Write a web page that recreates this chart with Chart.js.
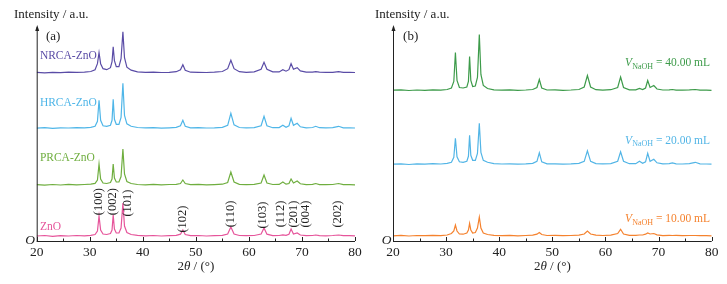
<!DOCTYPE html>
<html>
<head>
<meta charset="utf-8">
<script src="https://cdn.jsdelivr.net/npm/chart.js@4"></script>
<style>
  html, body { margin: 0; padding: 0; background: #fff; width: 727px; height: 284px; overflow: hidden; }
  canvas { position: absolute; top: 0; }
  #chart-a { left: 0; }
  #chart-b { left: 356px; }
</style>
</head>
<body>
<canvas id="chart-a" width="370" height="284"></canvas>
<canvas id="chart-b" width="371" height="284"></canvas>
<script>
// 2θ 取樣點 (度)
const twoTheta = [20, 21.5, 23, 24.5, 26, 27.5, 29, 30.2,
  31.0, 31.45, 31.75, 32.05, 32.5, 33.2,
  33.9, 34.2, 34.42, 34.65, 35.0, 35.5, 35.9, 36.25, 36.55, 37.0, 37.8,
  39.0, 40.5, 42, 43.5, 45, 46.3,
  47.1, 47.55, 48.0,
  49, 50.5, 52, 53.5, 55,
  56.0, 56.6, 57.2, 58.2,
  59.5, 61, 62.3, 62.85, 63.4, 64.5,
  65.7, 66.4, 67.0, 67.55, 67.95, 68.4, 69.1, 69.7,
  70.8, 72.0, 72.6, 73.3, 74.5, 75.8, 76.9, 77.8, 79, 80];

// (a) 強度 (a.u.)
const znO = [0, 0.5, -0.3, 0.4, 0, 0.5, 0.2, 0.6,
  1.5, 5, 20, 6, 2, 1.5,
  2.5, 6, 21, 7, 3, 3, 8, 33, 10, 3.5, 1.5,
  0.6, 0.2, 0.5, 0, 0.4, 0.6,
  1.8, 6, 1.5,
  0.3, 0.5, 0, 0.4, 0.6,
  2, 9, 2, 0.5,
  0.3, 0.5, 2, 8, 1.8, 0.4,
  0.5, 1.2, 0.6, 1.8, 7, 2, 3, 1,
  0.3, 0.5, 1, 0.4, 0.2, 0.5, 1, 0.3, 0.4, 0.2];
const prcaZnO = [0.3, -0.2, 0.5, 0, 0.6, 0.2, 0.5, 0.8,
  1.6, 5, 21, 6, 2, 1.5,
  2.5, 6, 21, 7, 3, 3, 8.5, 36, 11, 3.5, 1.5,
  0.5, 0.2, 0.6, 0.1, 0.5, 0.7,
  1.5, 5, 1.5,
  0.3, 0.6, 0.1, 0.4, 0.8,
  2.5, 13, 3, 0.7,
  0.4, 0.6, 2, 10, 2, 0.5,
  0.6, 3, 0.8, 1.5, 6, 2, 4, 1.2,
  0.4, 0.6, 1.5, 0.4, 0.3, 0.5, 1.5, 0.4, 0.3, 0.2];
const hrcaZnO = [0.2, 0.6, 0, 0.5, 0.3, 0.7, 0.4, 1,
  2, 7, 28, 8, 2.5, 2,
  3, 8, 29, 9, 4, 4, 11, 45, 13, 4.5, 2,
  0.8, 0.4, 0.6, 0.2, 0.5, 0.9,
  2.5, 8, 2,
  0.5, 0.6, 0.3, 0.5, 0.9,
  3, 15, 3.5, 0.8,
  0.5, 0.7, 2.5, 12, 2.5, 0.6,
  0.7, 3, 1, 2.5, 10, 3, 5, 1.5,
  0.5, 0.8, 2, 0.6, 0.4, 0.7, 2, 0.5, 0.4, 0.3];
const nrcaZnO = [0.3, -0.2, 0.4, 0.1, 0.5, 0.3, 0.6, 1.2,
  3, 9, 20, 9, 4, 3,
  5, 11, 26, 12, 6, 6, 14, 41, 15, 5.5, 2.5,
  0.8, 0.3, 0.5, 0.2, 0.4, 1,
  3, 8, 2.5,
  0.5, 0.4, 0.2, 0.6, 1.2,
  4, 12.5, 4, 1,
  0.4, 0.8, 3.5, 10.5, 3.5, 0.8,
  0.8, 3, 1.5, 3, 9, 3.5, 5, 1.8,
  0.6, 0.5, 1, 0.5, 0.3, 0.4, 1, 0.3, 0.4, 0.2];

// (b) 強度 (a.u.)
const naoh10 = [0.2, 0.6, 0, 0.5, 0.3, 0.7, 0.4, 1,
  2.5, 5, 11, 5, 2, 1.8,
  3, 6, 12.7, 6, 3, 3.5, 8, 19, 8, 3, 1.5,
  0.6, 0.3, 0.7, 0.2, 0.5, 0.9,
  1.8, 3.4, 1.5,
  0.5, 0.6, 0.3, 0.5, 0.9,
  2, 5, 2, 0.8,
  0.5, 0.8, 2.5, 6.7, 2, 0.6,
  0.6, 1, 1, 1.8, 3, 2, 2.5, 1.2,
  0.4, 0.7, 0.5, 0.6, 0.3, 0.5, 0.5, 0.4, 0.3, 0.2];
const naoh20 = [0.2, 0.5, -0.2, 0.4, 0.1, 0.6, 0.3, 0.9,
  2, 7, 26, 7.5, 2.5, 2,
  3, 8, 29, 9, 4, 4, 11, 41, 12, 4, 2,
  0.6, 0.3, 0.5, 0.1, 0.4, 0.9,
  3, 11.5, 2.5,
  0.4, 0.5, 0.2, 0.4, 0.9,
  3, 13.5, 3, 0.7,
  0.4, 0.7, 3, 12.5, 3, 0.6,
  0.6, 3, 1, 2.5, 11, 3, 5, 1.5,
  0.5, 0.7, 1.5, 0.5, 0.3, 0.6, 2, 0.5, 0.3, 0.2];
const naoh40 = [0.3, 0.6, 0, 0.5, 0.2, 0.7, 0.4, 1,
  2.5, 9, 38, 10, 3, 2.5,
  3.5, 9, 34, 10, 4, 4.5, 13, 56, 16, 5, 2,
  0.7, 0.3, 0.6, 0.2, 0.5, 1,
  3, 11, 2.5,
  0.5, 0.6, 0.2, 0.5, 1,
  3.5, 15, 3.5, 0.8,
  0.4, 0.8, 3, 13.5, 3, 0.7,
  0.6, 2, 1, 2.5, 10, 3, 5, 1.5,
  0.5, 0.6, 1, 0.4, 0.3, 0.6, 1, 0.4, 0.3, 0.2];

// 每條曲線往上平移的量
const shiftA = [5, 56, 112.7, 168.3];
const shiftB = [5, 76.7, 150.5];

// 晶面標記
const hklLabels = ["(100)", "(002)", "(101)", "(102)", "(110)", "(103)", "(112)", "(201)", "(004)", "(202)"];
const hklPos = [31.7, 34.4, 37.2, 47.5, 56.5, 62.6, 66.0, 68.5, 70.7, 76.7];
const hklLevel = [39.3, 39.3, 38, 22, 27, 26, 27, 27, 27, 27];

const xTicks = [20, 30, 40, 50, 60, 70, 80];
const serif = "'Liberation Serif', 'DejaVu Serif', serif";

const toPoints = (vals, shift) => vals.map((v, i) => ({ x: twoTheta[i], y: v + shift }));

const line = (label, vals, shift, color) => ({
  label,
  data: toPoints(vals, shift),
  borderColor: color,
  borderWidth: 1.2,
  pointRadius: 0,
  tension: 0,
  fill: false,
});

// 寫多段不同字型的文字
const drawParts = (ctx, parts, x, y) => {
  let cx = x;
  parts.forEach((p) => {
    ctx.font = p.font;
    ctx.fillText(p.t, cx, y + (p.dy || 0));
    cx += ctx.measureText(p.t).width;
  });
  return cx - x;
};

const decor = {
  id: "decor",
  afterDraw(chart, args, opts) {
    const { ctx, chartArea, scales } = chart;
    const { left, right, top, bottom } = chartArea;
    const xs = scales.x;
    const ys = scales.y;
    ctx.save();
    ctx.strokeStyle = "#222";
    ctx.fillStyle = "#222";
    ctx.lineWidth = 1;

    // 座標軸
    ctx.beginPath();
    ctx.moveTo(left, bottom + 0.5);
    ctx.lineTo(right, bottom + 0.5);
    ctx.moveTo(left + 0.5, bottom + 0.5);
    ctx.lineTo(left + 0.5, top - 1);
    ctx.stroke();
    ctx.beginPath();
    ctx.moveTo(left + 0.5, top - 3);
    ctx.lineTo(left - 1.5, top + 3);
    ctx.lineTo(left + 2.5, top + 3);
    ctx.closePath();
    ctx.fill();

    // 刻度
    ctx.beginPath();
    for (let v = 20; v <= 80; v += 5) {
      const px = Math.round(xs.getPixelForValue(v)) + 0.5;
      const len = v % 10 === 0 ? 4 : 2.5;
      ctx.moveTo(px, bottom);
      ctx.lineTo(px, bottom - len);
    }
    ctx.stroke();

    ctx.font = `13.5px ${serif}`;
    ctx.textAlign = "center";
    ctx.textBaseline = "middle";
    xTicks.forEach((v) => ctx.fillText(String(v), xs.getPixelForValue(v), bottom + 11));

    ctx.font = `italic 13.5px ${serif}`;
    ctx.fillText("O", left - 6.5, bottom - 1);

    // 軸標題
    ctx.textAlign = "left";
    ctx.font = `13px ${serif}`;
    ctx.fillText("Intensity / a.u.", left - opts.yTitleDx, 15);
    const titleParts = [
      { t: "2", font: `13px ${serif}` },
      { t: "θ", font: `italic 13px ${serif}` },
      { t: " / (°)", font: `13px ${serif}` },
    ];
    let w = 0;
    titleParts.forEach((p) => { ctx.font = p.font; w += ctx.measureText(p.t).width; });
    drawParts(ctx, titleParts, (left + right) / 2 - w / 2, bottom + 26);

    // 文字標記
    (opts.texts || []).forEach((t) => {
      ctx.fillStyle = t.color || "#222";
      const px = xs.getPixelForValue(t.x);
      const py = ys.getPixelForValue(t.y);
      if (t.parts) {
        drawParts(ctx, t.parts, px, py);
      } else if (t.rotate) {
        ctx.save();
        ctx.translate(px, py);
        ctx.rotate(-Math.PI / 2);
        ctx.textAlign = "center";
        ctx.font = `12.5px ${serif}`;
        ctx.fillText(t.t, 0, 0);
        ctx.restore();
      } else {
        ctx.font = `${t.size || 13}px ${serif}`;
        ctx.fillText(t.t, px, py);
      }
    });
    ctx.restore();
  },
};

const baseOptions = (padLeft, padRight, decorOpts) => ({
  responsive: false,
  animation: false,
  layout: { padding: { left: padLeft, right: padRight, top: 28, bottom: 43 } },
  plugins: { legend: { display: false }, tooltip: { enabled: false }, decor: decorOpts },
  scales: {
    x: { type: "linear", min: 20, max: 80, display: false },
    y: { type: "linear", min: 0, max: 213, display: false },
  },
});

const colorsA = ["#e6559b", "#6fae3f", "#4fb6e8", "#5a4ca6"];
const colorsB = ["#f5822e", "#52b5e6", "#3d9b4a"];

const vLabel = (num) => [
  { t: "V", font: `italic 11.5px ${serif}` },
  { t: "NaOH", font: `8px ${serif}`, dy: 3.5 },
  { t: ` = ${num} mL`, font: `11.5px ${serif}` },
];

const textsA = [
  { t: "(a)", x: 21.75, y: 204 },
  { t: "NRCA-ZnO", x: 20.6, y: 185, color: colorsA[3], size: 11.5 },
  { t: "HRCA-ZnO", x: 20.6, y: 138.3, color: colorsA[2], size: 11.5 },
  { t: "PRCA-ZnO", x: 20.6, y: 83, color: colorsA[1], size: 11.5 },
  { t: "ZnO", x: 20.6, y: 14.3, color: colorsA[0], size: 11.5 },
  ...hklLabels.map((h, i) => ({ t: h, x: hklPos[i], y: hklLevel[i], rotate: true })),
];

const textsB = [
  { t: "(b)", x: 21.9, y: 204 },
  { parts: vLabel("40.00"), x: 63.7, y: 178, color: colorsB[2] },
  { parts: vLabel("20.00"), x: 63.7, y: 100.3, color: colorsB[1] },
  { parts: vLabel("10.00"), x: 63.7, y: 21.7, color: colorsB[0] },
];

new Chart(document.getElementById("chart-a"), {
  type: "line",
  data: {
    datasets: [
      line("ZnO", znO, shiftA[0], colorsA[0]),
      line("PRCA-ZnO", prcaZnO, shiftA[1], colorsA[1]),
      line("HRCA-ZnO", hrcaZnO, shiftA[2], colorsA[2]),
      line("NRCA-ZnO", nrcaZnO, shiftA[3], colorsA[3]),
    ],
  },
  options: baseOptions(36.7, 15, { texts: textsA, yTitleDx: 22.7 }),
  plugins: [decor],
});

new Chart(document.getElementById("chart-b"), {
  type: "line",
  data: {
    datasets: [
      line("10.00 mL", naoh10, shiftB[0], colorsB[0]),
      line("20.00 mL", naoh20, shiftB[1], colorsB[1]),
      line("40.00 mL", naoh40, shiftB[2], colorsB[2]),
    ],
  },
  options: baseOptions(37, 15.3, { texts: textsB, yTitleDx: 18 }),
  plugins: [decor],
});
</script>
</body>
</html>
